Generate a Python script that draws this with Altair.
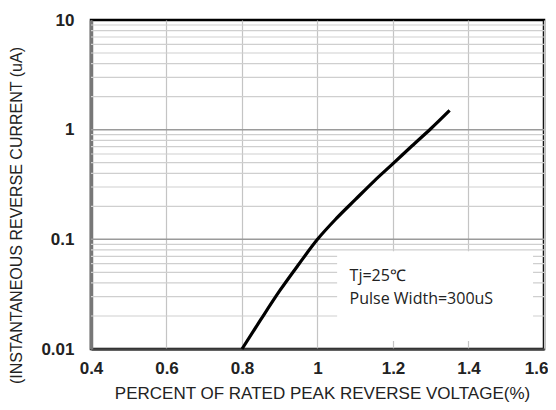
import altair as alt
import pandas as pd

# Curve data
voltage = [0.8, 0.85, 0.9, 0.95, 1.0, 1.05, 1.1, 1.15, 1.2, 1.25, 1.3, 1.35]
current = [0.01, 0.0186, 0.034, 0.059, 0.1, 0.155, 0.23, 0.34, 0.49, 0.71, 1.02, 1.5]

x_ticks = [0.4, 0.6, 0.8, 1.0, 1.2, 1.4, 1.6]
y_ticks = [0.01, 0.1, 1, 10]
major_grid = [0.1, 1]
minor_mult = [2, 3, 4, 5, 6, 7, 8, 9]
decades = [0.01, 0.1, 1]
minor_grid = [round(m * d, 4) for d in decades for m in minor_mult]

notes = ["Tj=25\u2103", "Pulse Width=300uS"]
note_x = [1.085, 1.085]
note_y = [0.046, 0.0285]
box_x = [1.052]
box_x2 = [1.571]
box_y = [0.0118]
box_y2 = [0.078]

curve_df = pd.DataFrame({"v": voltage, "i": current})
minor_df = pd.DataFrame({"y": minor_grid})
major_df = pd.DataFrame({"y": major_grid})
box_df = pd.DataFrame({"x": box_x, "x2": box_x2, "y": box_y, "y2": box_y2})
note_df = pd.DataFrame({"t": notes, "x": note_x, "y": note_y})

xscale = alt.Scale(domain=[0.4, 1.6], nice=False, zero=False)
yscale = alt.Scale(type="log", domain=[0.01, 10], nice=False)

SANS = "Liberation Sans"

xaxis = alt.Axis(
    values=x_ticks, format=".1~f", grid=True, gridColor="#c4c4c4", gridWidth=1.2,
    ticks=False, domainColor="#444", domainWidth=2.5, labelFlush=False,
    labelFont=SANS, labelFontWeight="bold", labelFontSize=17, labelColor="#222",
    labelPadding=11,
    labelAlign={"condition": {"test": "datum.value >= 1.59", "value": "right"}, "value": "center"},
    labelOffset={"condition": {"test": "datum.value >= 1.59", "value": 4}, "value": 0},
    title="PERCENT OF RATED PEAK REVERSE VOLTAGE(%)",
    titleFont=SANS, titleFontWeight="normal", titleFontSize=17, titleColor="#222",
    titleX=231, titleY=49, titleBaseline="alphabetic", titleAlign="center",
)
yaxis = alt.Axis(
    values=y_ticks, format="~g", grid=False, ticks=False, labelFlush=False,
    domainColor="#777", domainWidth=3.5,
    labelFont=SANS, labelFontWeight="bold", labelFontSize=17, labelColor="#222",
    labelPadding=17, labelBaseline="middle",
    title="(INSTANTANEOUS REVERSE CURRENT (uA)",
    titleFont=SANS, titleFontWeight="normal", titleFontSize=16, titleColor="#222",
    titleX=-75, titleY=195, titleBaseline="middle", titleAlign="center", titleAngle=-90,
)

minor = alt.Chart(minor_df).mark_rule(color="#cfcfcf", strokeWidth=1.2).encode(
    y=alt.Y("y:Q", scale=yscale, axis=yaxis)
)
major = alt.Chart(major_df).mark_rule(color="#9a9a9a", strokeWidth=1.5).encode(
    y=alt.Y("y:Q", scale=yscale)
)
box = alt.Chart(box_df).mark_rect(fill="white").encode(
    x=alt.X("x:Q", scale=xscale, axis=xaxis),
    x2="x2:Q",
    y=alt.Y("y:Q", scale=yscale),
    y2="y2:Q",
)
curve = alt.Chart(curve_df).mark_line(color="black", strokeWidth=3.2, interpolate="monotone").encode(
    x=alt.X("v:Q", scale=xscale),
    y=alt.Y("i:Q", scale=yscale),
)
text = alt.Chart(note_df).mark_text(
    align="left", baseline="middle", font="Open Sans", fontSize=16, color="#222"
).encode(
    x=alt.X("x:Q", scale=xscale),
    y=alt.Y("y:Q", scale=yscale),
    text="t:N",
)

chart = alt.layer(minor, major, box, curve, text).properties(
    width=453, height=329,
    autosize=alt.AutoSizeParams(type="none"),
    padding={"left": 83, "top": 12, "right": 4, "bottom": 53},
    background="white",
).configure_view(stroke="black", strokeWidth=2.5)

chart.save("out.html", embed_options={"renderer": "svg", "actions": False})
